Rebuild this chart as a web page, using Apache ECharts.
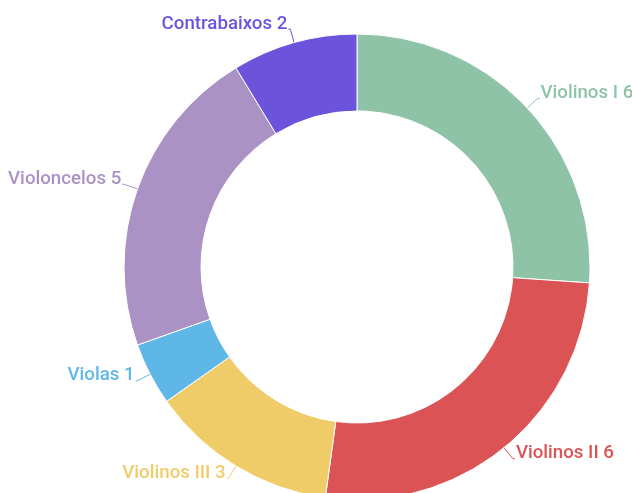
<!DOCTYPE html>
<html>
<head>
<meta charset="utf-8">
<script src="https://cdn.jsdelivr.net/npm/echarts@6/dist/echarts.min.js"></script>
<style>
html,body{margin:0;padding:0;background:#fff;}
#chart{width:632px;height:493px;}
</style>
</head>
<body>
<div id="chart"></div>
<script>
const categories = ['Violinos I', 'Violinos II', 'Violinos III', 'Violas', 'Violoncelos', 'Contrabaixos'];
const values = [6, 6, 3, 1, 5, 2];
const colors = ['#8ec3a7', '#db5354', '#f0cc69', '#5eb7e6', '#ab92c4', '#6c53dc'];

const chart = echarts.init(document.getElementById('chart'));
chart.setOption({
  animation: false,
  color: colors,
  series: [{
    type: 'pie',
    center: [357, 267],
    radius: [156, 233],
    startAngle: 90,
    clockwise: true,
    avoidLabelOverlap: true,
    itemStyle: { borderColor: '#fff', borderWidth: 1 },
    label: {
      show: true,
      formatter: '{b} {c}',
      fontFamily: 'Roboto',
      fontSize: 18.7,
      fontWeight: 500,
      overflow: 'none',
      distanceToLabelLine: 1
    },
    labelLayout: function () { return { dy: -5 }; },
    labelLine: { show: true, length: 14, length2: 2, lineStyle: { width: 1 } },
    data: categories.map((c, i) => ({
      name: c, value: values[i],
      label: { color: colors[i] },
      labelLine: { lineStyle: { color: colors[i] } }
    }))
  }]
});
</script>
</body>
</html>
